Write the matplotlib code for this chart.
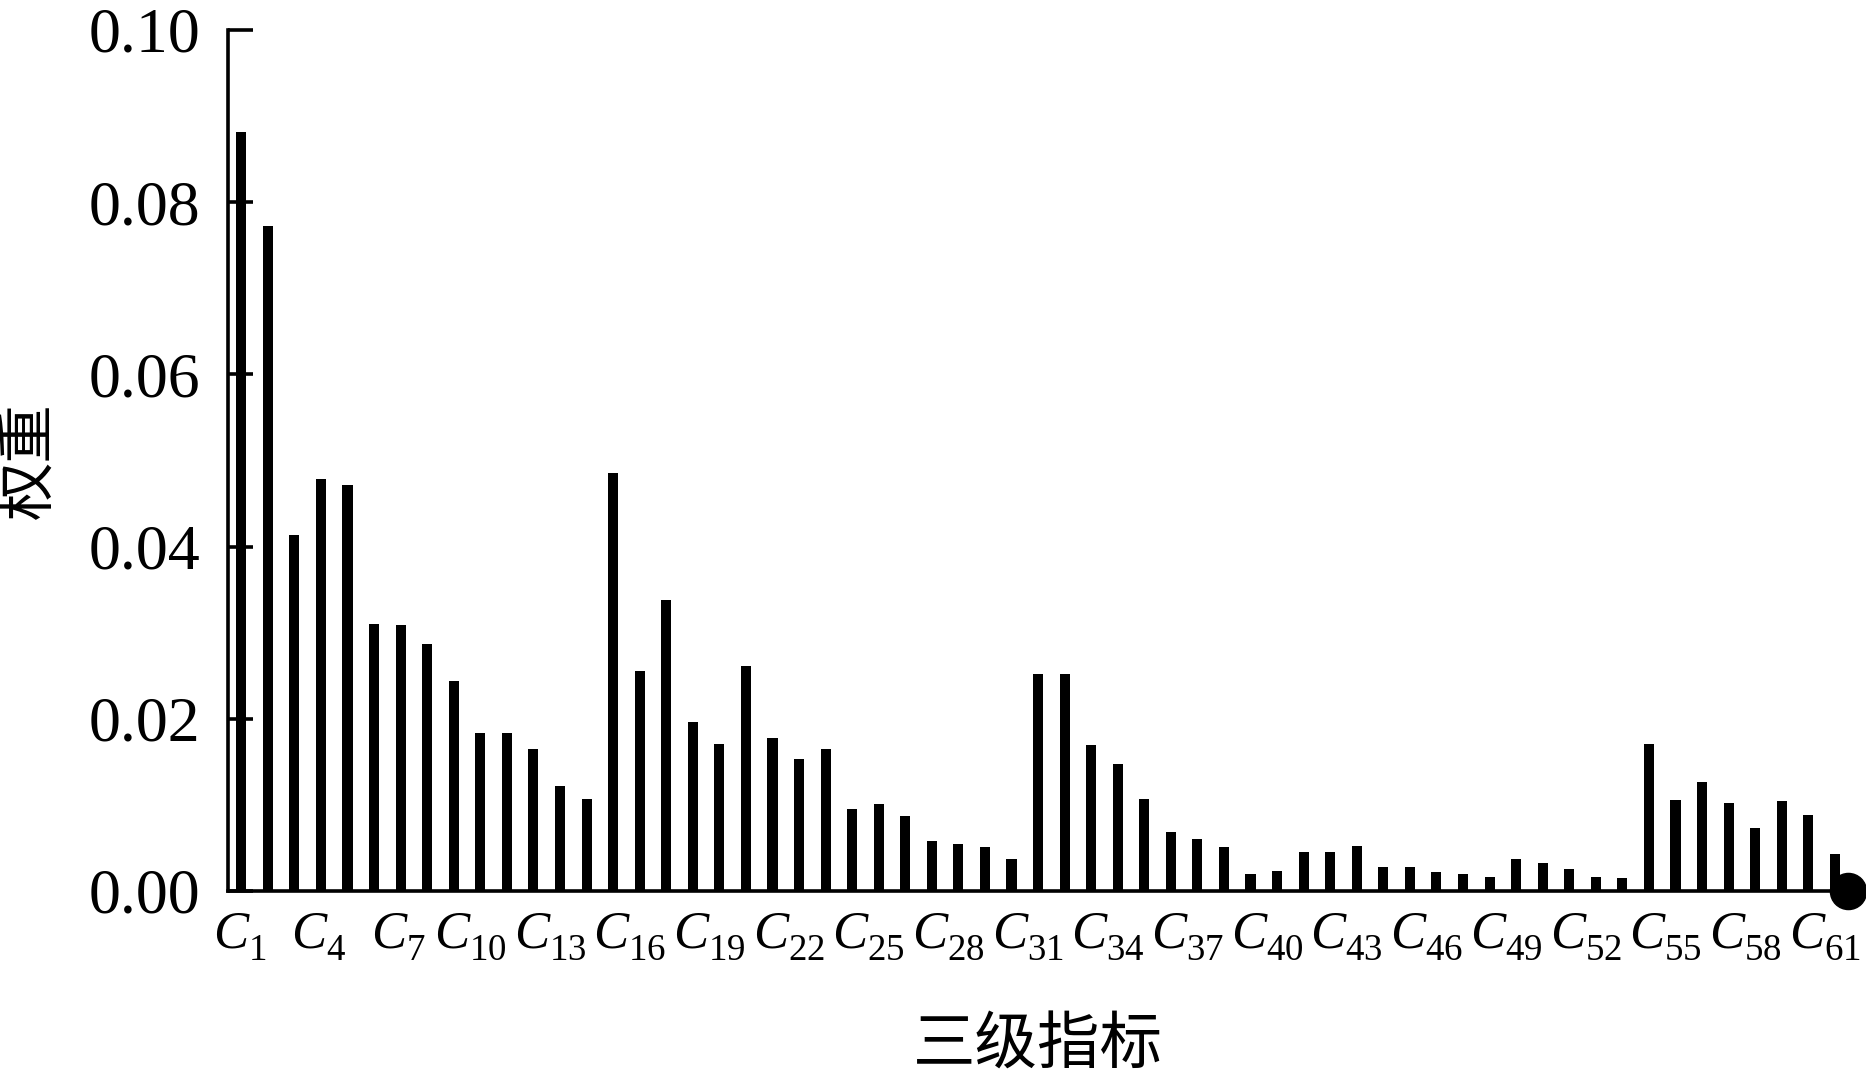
import matplotlib
matplotlib.use("Agg")
import matplotlib.pyplot as plt
import matplotlib.transforms as mtransforms
import numpy as np

# ---- data ----
indices = list(range(1, 62))
weights = [0.0881, 0.0772, 0.0414, 0.0478, 0.0471, 0.0310, 0.0309, 0.0287, 0.0244, 0.0183,
           0.0184, 0.0165, 0.0122, 0.0107, 0.0486, 0.0256, 0.0338, 0.0196, 0.0171, 0.0261,
           0.0178, 0.0153, 0.0165, 0.0095, 0.0101, 0.0087, 0.0058, 0.0054, 0.0051, 0.0037,
           0.0252, 0.0252, 0.0170, 0.0148, 0.0107, 0.0068, 0.0060, 0.0051, 0.0020, 0.0023,
           0.0045, 0.0045, 0.0052, 0.0028, 0.0028, 0.0022, 0.0020, 0.0016, 0.0037, 0.0032,
           0.0025, 0.0016, 0.0015, 0.0171, 0.0106, 0.0127, 0.0102, 0.0073, 0.0104, 0.0088,
           0.0043]
tick_idx = list(range(1, 62, 3))
tick_labels = [r"$\mathit{C}_{%d}$" % i for i in tick_idx]
yticks = [0.00, 0.02, 0.04, 0.06, 0.08, 0.10]
ytick_labels = ["0.00", "0.02", "0.04", "0.06", "0.08", "0.10"]
xlabel = "三级指标"
ylabel = "权重"

plt.rcParams["mathtext.fontset"] = "custom"
plt.rcParams["mathtext.rm"] = "Liberation Serif"
plt.rcParams["mathtext.it"] = "Liberation Serif:italic"
plt.rcParams["mathtext.bf"] = "Liberation Serif:bold"
try:
    import matplotlib._mathtext as _mt
    _mt.FontConstantsBase.sub1 = 0.5
    _mt.FontConstantsBase.sub2 = 0.6
    _mt.FontConstantsBase.script_space = 0.12
except Exception:
    pass

fig = plt.figure(figsize=(18.66, 10.74), dpi=100)
ax = fig.add_axes([0.1222, 0.1704, 0.9904 - 0.1222, 0.9721 - 0.1704])

ax.bar(indices, weights, width=0.38, color="black")
ax.set_xlim(0.5, 61.5)
ax.set_ylim(0, 0.10)

ax.spines["top"].set_visible(False)
ax.spines["right"].set_visible(False)
for s in ("left", "bottom"):
    ax.spines[s].set_linewidth(2.6)
    ax.spines[s].set_color("black")

ax.set_yticks(yticks)
ax.set_yticklabels(ytick_labels, fontfamily="Liberation Serif", fontsize=46)
ax.tick_params(axis="y", direction="in", length=18, width=2.6, pad=20)

ax.set_xticks(tick_idx)
ax.set_xticklabels(tick_labels, fontsize=38)
ax.tick_params(axis="x", length=0, pad=14)
for lab, i in zip(ax.get_xticklabels(), tick_idx):
    dx = -2 if i < 10 else -10
    off = mtransforms.ScaledTranslation(dx / 100.0, 0, fig.dpi_scale_trans)
    lab.set_transform(lab.get_transform() + off)

# end marker on the axis
ax.plot([61.5], [0], "o", color="black", ms=26, clip_on=False, zorder=5)

ax.set_xlabel(xlabel, fontfamily=["Noto Sans CJK SC", "DejaVu Sans"], fontsize=45)
ax.set_ylabel(ylabel, fontfamily=["Noto Sans CJK SC", "DejaVu Sans"], fontsize=42)
ax.xaxis.set_label_coords(0.5, -0.142)
ax.yaxis.set_label_coords(-0.104, 0.5)

fig.savefig("out.png", dpi=100)
